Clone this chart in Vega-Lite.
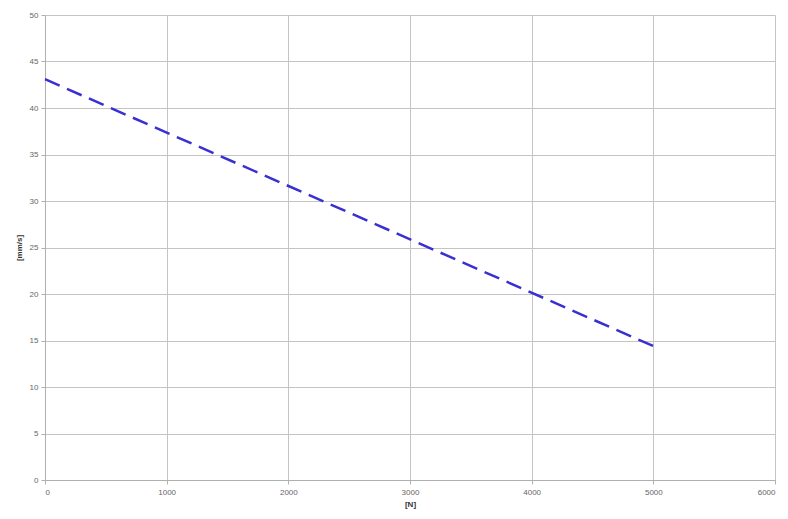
{
  "$schema": "https://vega.github.io/schema/vega-lite/v6.json",
  "width": 730,
  "height": 465,
  "autosize": "none",
  "padding": {"left": 45, "top": 15, "right": 13, "bottom": 39},
  "background": "white",
  "config": {
    "view": {"stroke": null},
    "axis": {
      "labelFont": "Liberation Sans",
      "titleFont": "Liberation Sans",
      "labelFontSize": 8,
      "titleFontSize": 8,
      "labelColor": "#666666",
      "titleColor": "#333333",
      "gridColor": "#c4c4c4",
      "gridWidth": 1,
      "domainColor": "#b0b0b0",
      "tickColor": "#b0b0b0",
      "tickSize": 4
    }
  },
  "data": {
    "values": [
      {"force": 0, "speed": 43.1},
      {"force": 5000, "speed": 14.4}
    ]
  },
  "mark": {"type": "line", "color": "#3a2fd0", "strokeWidth": 2.5, "strokeDash": [16, 8]},
  "encoding": {
    "x": {
      "field": "force",
      "type": "quantitative",
      "scale": {"domain": [0, 6000], "nice": false},
      "axis": {"values": [0, 1000, 2000, 3000, 4000, 5000, 6000], "format": "d", "title": "[N]", "titlePadding": 4, "labelPadding": 4}
    },
    "y": {
      "field": "speed",
      "type": "quantitative",
      "scale": {"domain": [0, 50], "nice": false},
      "axis": {"values": [0, 5, 10, 15, 20, 25, 30, 35, 40, 45, 50], "title": "[mm/s]", "titlePadding": 6, "labelPadding": 3}
    }
  }
}
